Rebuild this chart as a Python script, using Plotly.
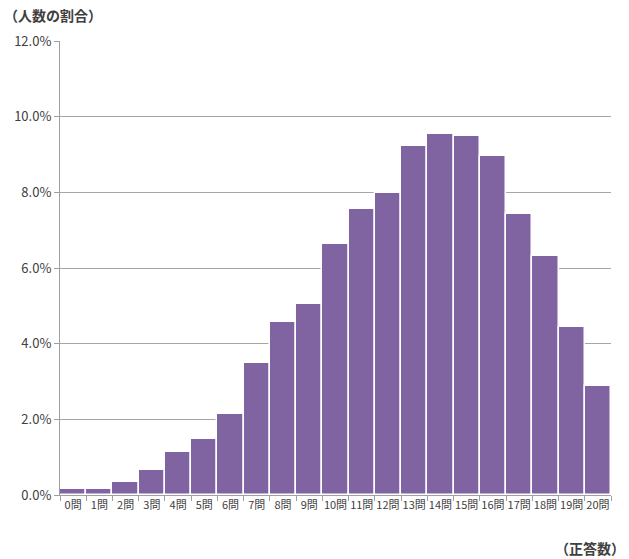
import plotly.graph_objects as go

categories = [f"{i}問" for i in range(21)]
values = [0.15, 0.17, 0.34, 0.65, 1.14, 1.48, 2.14, 3.49, 4.57, 5.05, 6.63,
          7.56, 7.98, 9.22, 9.54, 9.49, 8.97, 7.43, 6.32, 4.44, 2.88]
y_ticks = [0, 2, 4, 6, 8, 10, 12]
y_tick_labels = [f"{v:.1f}%" for v in y_ticks]

font_family = "Noto Sans CJK JP, Noto Sans, sans-serif"

fig = go.Figure()
fig.add_trace(go.Bar(
    x=categories, y=values,
    marker=dict(color="#8064A2", line=dict(color="#FFFFFF", width=1.5)),
    width=1.0,
))

fig.update_layout(
    width=629, height=559,
    margin=dict(l=60, r=18, t=41, b=64),
    plot_bgcolor="white", paper_bgcolor="white",
    showlegend=False, bargap=0,
    font=dict(family=font_family, color="#404040"),
    xaxis=dict(
        type="category", showgrid=False, automargin=False,
        showline=True, linecolor="#A0A0A0", linewidth=1,
        ticks="outside", tickson="boundaries", ticklen=5, tickcolor="#A0A0A0",
        tickfont=dict(size=11, color="#404040"), tickangle=0,
        range=[-0.5, 20.5],
    ),
    yaxis=dict(
        range=[0, 12], tickvals=y_ticks, ticktext=y_tick_labels,
        showgrid=True, gridcolor="#A6A6A6", gridwidth=1, automargin=False,
        showline=True, linecolor="#A0A0A0", linewidth=1,
        ticks="outside", ticklen=5, tickcolor="#A0A0A0",
        tickfont=dict(size=13, color="#404040"),
        zeroline=False,
    ),
    annotations=[
        dict(text="<b>（人数の割合）</b>", x=0, y=1, xref="paper", yref="paper",
             xanchor="left", yanchor="middle", showarrow=False,
             font=dict(size=14, color="#404040", family=font_family),
             xshift=-58, yshift=26),
        dict(text="<b>（正答数）</b>", x=1, y=0, xref="paper", yref="paper",
             xanchor="right", yanchor="middle", showarrow=False,
             font=dict(size=14, color="#404040", family=font_family),
             xshift=16, yshift=-53),
    ],
)

fig.write_html("out.html")
